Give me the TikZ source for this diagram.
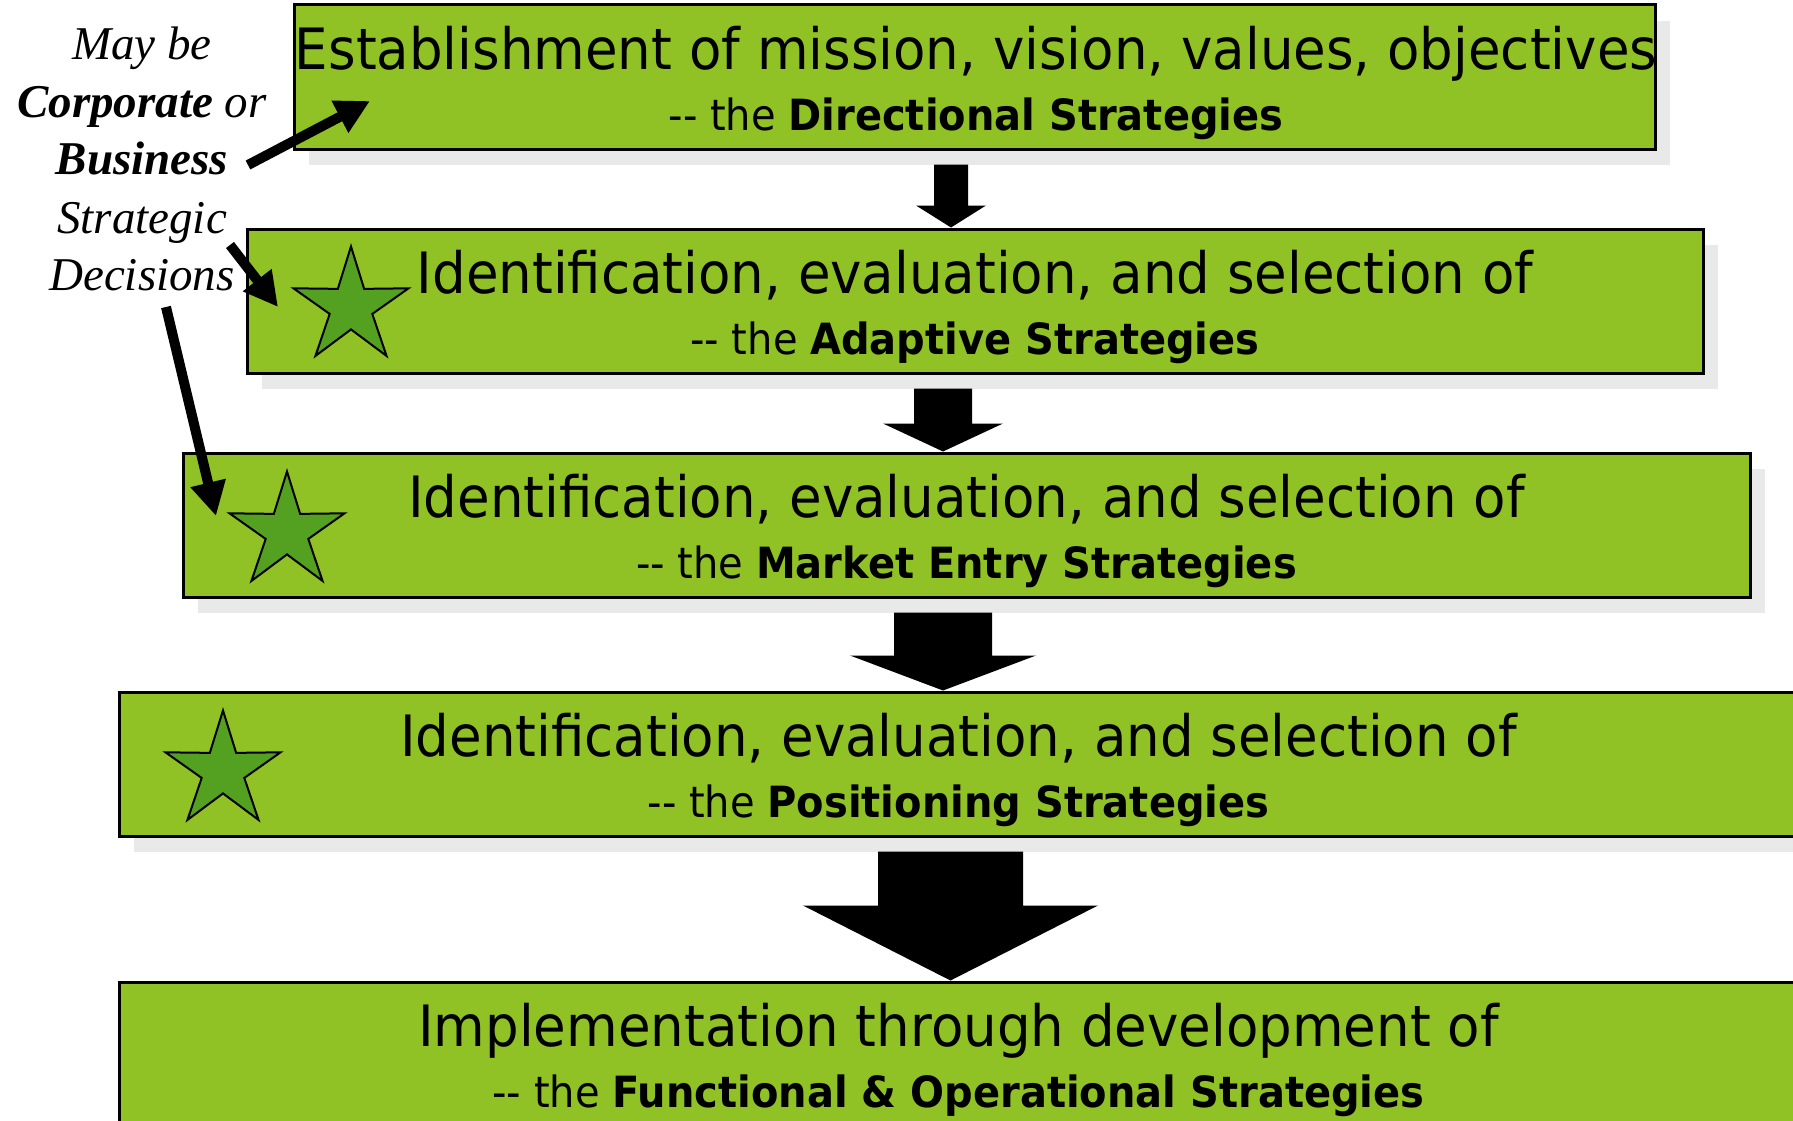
\documentclass[tikz,border=0pt]{standalone}
\usepackage{fontspec}
\usetikzlibrary{arrows.meta,shapes.geometric,shadows,calc}
\newfontfamily\boxfont[FakeStretch=0.93]{DejaVu Sans}
\newfontfamily\notefont{Liberation Serif}
\definecolor{boxgreen}{HTML}{90C226}
\definecolor{stargreen}{HTML}{54A021}
\definecolor{shadowgray}{HTML}{E9E9E9}

% solid downward block arrow between two stage boxes:
% #1 upper box, #2 lower box, #3 centre x, #4 shaft half-width, #5 head half-width, #6 head length
\newcommand\blockdown[6]{%
  \fill let \p1=(#1.south), \p2=(#2.north) in
    (#3pt-#4pt,\y1-14pt) -- (#3pt+#4pt,\y1-14pt) -- (#3pt+#4pt,\y2+#6pt)
    -- (#3pt+#5pt,\y2+#6pt) -- (#3pt,\y2) -- (#3pt-#5pt,\y2+#6pt)
    -- (#3pt-#4pt,\y2+#6pt) -- cycle;}

\begin{document}
\begin{tikzpicture}[x=1pt,y=-1pt,
  stagebox/.style={draw=black, line width=3pt, fill=boxgreen, minimum height=144pt, inner sep=0pt,
    drop shadow={shadow xshift=15pt, shadow yshift=-16pt, fill=shadowgray, opacity=1}},
  linea/.style={font=\boxfont\fontsize{57}{60}\selectfont, anchor=base, inner sep=0pt},
  lineb/.style={font=\boxfont\fontsize{43}{46}\selectfont, anchor=base, inner sep=0pt},
  starmark/.style={star, star points=5, star point ratio=2.7, minimum size=121pt, inner sep=0pt,
    draw=black, line width=2pt, fill=stargreen},
  noteline/.style={font=\notefont\itshape\fontsize{47}{50}\selectfont, anchor=base, inner sep=0pt},
  pointer/.style={line width=10pt, -{Triangle[length=34pt,width=34pt]}}]

\clip (0,0) rectangle (1793,1121);

% stage boxes
\node[stagebox, minimum width=1361pt] (b1) at (974.5,77) {};
\node[stagebox, minimum width=1456pt] (b2) at (975,301) {};
\node[stagebox, minimum width=1567pt] (b3) at (966.5,525) {};
\node[stagebox, minimum width=1679pt] (b4) at (958.5,764) {};
\node[stagebox, minimum width=1679pt] (b5) at (958.5,1054) {};

% box texts
\node[linea] (t1a) at ($(b1.north)+(1.5,66)$) {Establishment of mission, vision, values, objectives};
\node[lineb] (t1b) at ($(b1.north)+(1.5,127)$) {-- the \textbf{Directional Strategies}};
\node[linea] (t2a) at ($(b2.north)+(0,66)$) {Identification, evaluation, and selection of};
\node[lineb] (t2b) at ($(b2.north)+(0,127)$) {-- the \textbf{Adaptive Strategies}};
\node[linea] (t3a) at ($(b3.north)+(0,66)$) {Identification, evaluation, and selection of};
\node[lineb] (t3b) at ($(b3.north)+(0,127)$) {-- the \textbf{Market Entry Strategies}};
\node[linea] (t4a) at ($(b4.north)+(0,66)$) {Identification, evaluation, and selection of};
\node[lineb] (t4b) at ($(b4.north)+(0,127)$) {-- the \textbf{Positioning Strategies}};
\node[linea] (t5a) at ($(b5.north)+(0,66)$) {Implementation through development of};
\node[lineb] (t5b) at ($(b5.north)+(0,127)$) {-- the \textbf{Functional \& Operational Strategies}};

% stars
\node[starmark] (s2) at (351,307) {};
\node[starmark] (s3) at (287,532) {};
\node[starmark] (s4) at (223,771) {};

% block arrows between stages
\blockdown{b1}{b2}{951}{17}{35}{22}
\blockdown{b2}{b3}{943}{29}{60}{28}
\blockdown{b3}{b4}{943}{49}{93}{35}
\blockdown{b4}{b5}{950.5}{72.5}{147.5}{75}

% side note
\node[noteline] (n1) at (142,60) {May be};
\node[noteline] (n2) at (142,118) {{\bfseries Corporate} or};
\node[noteline] (n3) at (142,175) {\bfseries Business};
\node[noteline] (n4) at (142,233) {Strategic};
\node[noteline] (n5) at (142,290) {Decisions};

% pointers from the note
\coordinate (pa) at (248,165);
\coordinate (ta) at (370,101);
\coordinate (pb) at (230,245);
\coordinate (tb) at (278,307);
\coordinate (pc) at (166,307);
\coordinate (tc) at (216,516);
\draw[pointer] (pa) -- (ta);
\draw[pointer] (pb) -- (tb);
\draw[pointer] (pc) -- (tc);
\end{tikzpicture}
\end{document}
